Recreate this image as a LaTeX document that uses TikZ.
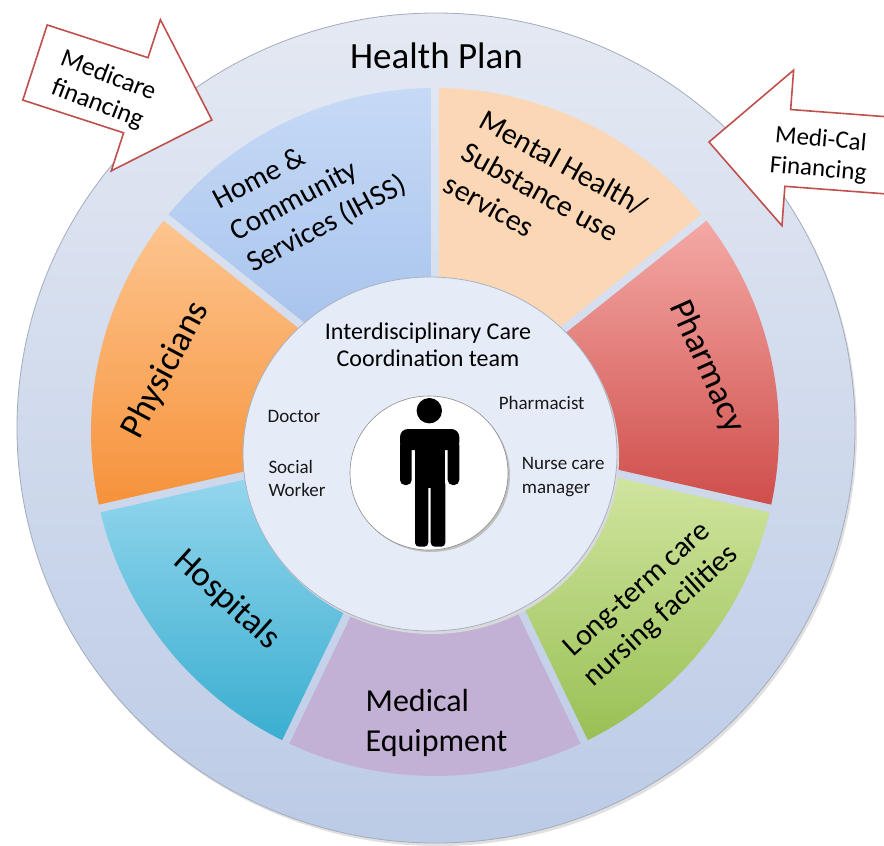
\documentclass[tikz,border=0pt]{standalone}
\usepackage{fontspec}
\setmainfont{Carlito}
\usetikzlibrary{calc}
\definecolor{ringtop}{HTML}{E4E9F3}
\definecolor{ringbot}{HTML}{BCCBE6}
\definecolor{ringline}{HTML}{A3ACBD}
\definecolor{hometop}{HTML}{C6DAF6}
\definecolor{homebot}{HTML}{9DBBE9}
\definecolor{mental}{HTML}{FCD7B6}
\definecolor{pharmtop}{HTML}{F4A9A6}
\definecolor{pharmbot}{HTML}{CF4E4A}
\definecolor{longtop}{HTML}{D8EAAA}
\definecolor{longbot}{HTML}{99C054}
\definecolor{medeq}{HTML}{C3B1D5}
\definecolor{hosptop}{HTML}{A1DCF2}
\definecolor{hospbot}{HTML}{3AAED0}
\definecolor{phystop}{HTML}{FDC58F}
\definecolor{physbot}{HTML}{F6923A}
\definecolor{innerfill}{HTML}{E5ECF8}
\definecolor{innerline}{HTML}{A9B3C4}
\definecolor{arrowred}{HTML}{C0504D}
\tikzset{
  seglabel/.style={inner sep=0pt, text=black},
  teamlabel/.style={inner sep=0pt, text=black!90, font=\fontsize{19}{23.3}\selectfont},
  fundarrow/.style={fill=white, draw=arrowred, line width=1.6pt, line join=miter},
}
\def\sector[#1](#2){\shade[#1] ($(S)+(#2+25.714:9.2)$) -- ($(S)+(#2+0.67:344)$) arc (#2+0.67:#2+50.76:344) -- cycle;}

\begin{document}
\begin{tikzpicture}[x=1pt,y=1pt]
	%%%%% START %%%%%
	\useasboundingbox (0,0) rectangle (884,-846);
	\clip (0,0) rectangle (884,-846);
	\fill[white] (0,0) rectangle (884,-846);

	% health plan ring
	\fill[black!12] (438,-431) ellipse [x radius=419, y radius=415];
	\shade[top color=ringtop, bottom color=ringbot, draw=ringline, line width=0.8pt] (436,-428) ellipse [x radius=419, y radius=415];
	\node[seglabel, font=\fontsize{37}{40}\selectfont] (plan) at (436.5,-56) {Health Plan};

	% seven services
	\coordinate (S) at (435,-432);
	\sector[top color=mental, bottom color=mental](38.57)
	\sector[top color=hometop, bottom color=homebot](90)
	\sector[top color=phystop, bottom color=physbot](141.43)
	\sector[top color=hosptop, bottom color=hospbot](192.86)
	\sector[top color=medeq, bottom color=medeq](244.29)
	\sector[top color=longtop, bottom color=longbot](295.71)
	\sector[top color=pharmtop, bottom color=pharmbot](347.14)

	\node[seglabel, rotate=28, align=left, font=\fontsize{29.5}{36}\selectfont] (home) at (310,-193) {Home \&\\Community\\Services (IHSS)};
	\node[seglabel, rotate=-29, align=left, font=\fontsize{30}{36.6}\selectfont] (mental) at (546,-195) {Mental Health/\\Substance use\\services};
	\node[seglabel, rotate=-66, font=\fontsize{35}{40}\selectfont] (pharmacy) at (706.7,-366.7) {Pharmacy};
	\node[seglabel, rotate=42, align=center, font=\fontsize{30}{36}\selectfont] (longterm) at (650,-603.5) {Long-term care\\nursing facilities};
	\node[seglabel, align=left, font=\fontsize{32}{40}\selectfont] (equipment) at (436.5,-723) {Medical\\Equipment};
	\node[seglabel, rotate=-42, font=\fontsize{35}{40}\selectfont] (hospitals) at (226.7,-600) {Hospitals};
	\node[seglabel, rotate=62, font=\fontsize{36}{40}\selectfont] (physicians) at (166,-370) {Physicians};

	% care coordination team
	\fill[black!15] (432,-457) ellipse [x radius=187, y radius=177];
	\fill[innerfill, draw=innerline, line width=0.8pt] (430,-454) ellipse [x radius=187, y radius=177];
	\node[seglabel, align=center, font=\fontsize{24}{26.6}\selectfont] (team) at (428,-345) {Interdisciplinary Care\\Coordination team};
	\node[teamlabel] (doctor) at (294,-416.7) {Doctor};
	\node[teamlabel] (pharmacist) at (541.7,-403.3) {Pharmacist};
	\node[teamlabel, anchor=west, align=left] (social) at (268.3,-478.3) {Social\\Worker};
	\node[teamlabel, anchor=west, align=left] (nurse) at (521.7,-477) {Nurse care\\manager};

	% patient
	\fill[black!25] (431,-475) ellipse [x radius=79, y radius=77];
	\fill[white, draw=black!45, line width=0.6pt] (429,-473) ellipse [x radius=79, y radius=77];
	\fill (429.3,-410.7) circle (12.7);
	\fill[rounded corners=8] (400,-429) rectangle (459.3,-450);
	\fill[rounded corners=5] (400,-440) rectangle (411.7,-485);
	\fill[rounded corners=5] (447.7,-440) rectangle (459.3,-485);
	\fill (415,-432) rectangle (445,-488);
	\fill[rounded corners=4] (415,-480) rectangle (428.3,-546.7);
	\fill[rounded corners=4] (430.7,-480) rectangle (445.3,-546.7);

	% financing arrows
	\begin{scope}[shift={(35,-62.5)}, rotate=-18]
		\draw[fundarrow] (0,39.5) -- (106,39.5) -- (106,79.5) -- (186,0) -- (106,-79.5) -- (106,-39.5) -- (0,-39.5) -- cycle;
	\end{scope}
	\node[seglabel, rotate=-21, align=center, font=\fontsize{26}{30.3}\selectfont] (medicare) at (102.7,-90.5) {Medicare\\financing};

	\begin{scope}[shift={(709,-142)}, rotate=175.7]
		\draw[fundarrow] (0,0) -- (-79,78) -- (-79,38.5) -- (-260,38.5) -- (-260,-38.5) -- (-79,-38.5) -- (-79,-78) -- cycle;
	\end{scope}
	\node[seglabel, rotate=-5, align=center, font=\fontsize{25}{30}\selectfont] (medical) at (819.5,-155) {Medi-Cal\\Financing};
	%%%%% END %%%%%
\end{tikzpicture}
\end{document}
